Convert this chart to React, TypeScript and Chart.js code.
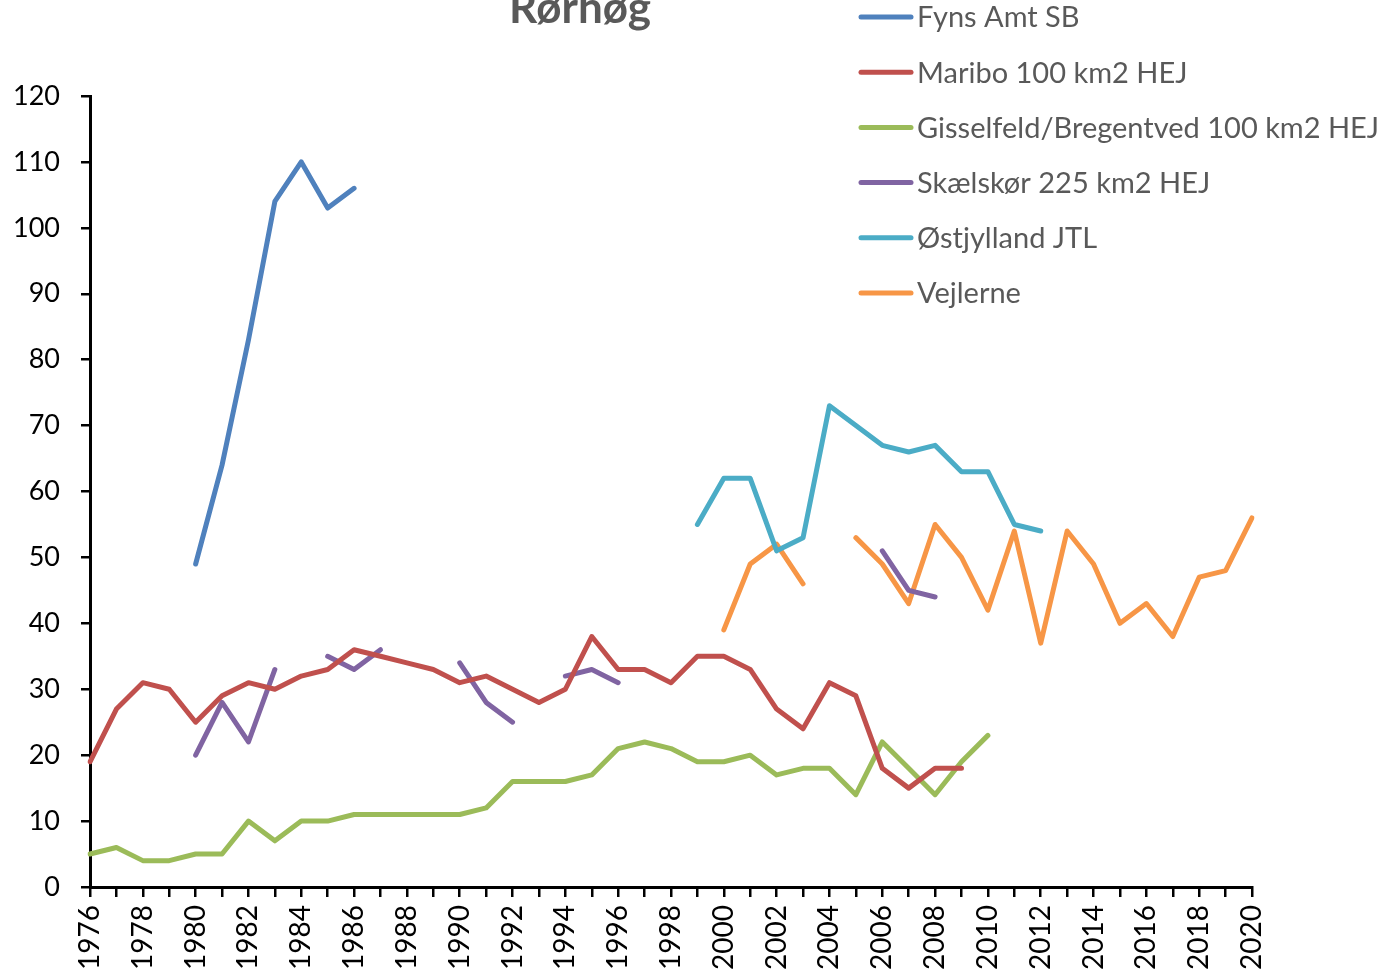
import React, { useEffect, useRef } from "react";
import { Chart, registerables } from "chart.js";

Chart.register(...registerables);

const years: string[] = [];
for (let y = 1976; y <= 2020; y++) years.push(String(y));

const N = null;

// 1976 .. 2020 (45 values)
const fynsAmt = [
  N, N, N, N, 49, 64, 83, 104, 110, 103, 106, N, N, N, N, N, N, N, N, N,
  N, N, N, N, N, N, N, N, N, N, N, N, N, N, N, N, N, N, N, N,
  N, N, N, N, N,
];
const maribo = [
  19, 27, 31, 30, 25, 29, 31, 30, 32, 33, 36, 35, 34, 33, 31, 32, 30, 28, 30, 38,
  33, 33, 31, 35, 35, 33, 27, 24, 31, 29, 18, 15, 18, 18, N, N, N, N, N, N,
  N, N, N, N, N,
];
const gisselfeld = [
  5, 6, 4, 4, 5, 5, 10, 7, 10, 10, 11, 11, 11, 11, 11, 12, 16, 16, 16, 17,
  21, 22, 21, 19, 19, 20, 17, 18, 18, 14, 22, 18, 14, 19, 23, N, N, N, N, N,
  N, N, N, N, N,
];
const skaelskoer = [
  N, N, N, N, 20, 28, 22, 33, N, 35, 33, 36, N, N, 34, 28, 25, N, 32, 33,
  31, N, N, N, N, N, N, N, N, N, 51, 45, 44, N, N, N, N, N, N, N,
  N, N, N, N, N,
];
const oestjylland = [
  N, N, N, N, N, N, N, N, N, N, N, N, N, N, N, N, N, N, N, N,
  N, N, N, 55, 62, 62, 51, 53, 73, 70, 67, 66, 67, 63, 63, 55, 54, N, N, N,
  N, N, N, N, N,
];
const vejlerne = [
  N, N, N, N, N, N, N, N, N, N, N, N, N, N, N, N, N, N, N, N,
  N, N, N, N, 39, 49, 52, 46, N, 53, 49, 43, 55, 50, 42, 54, 37, 54, 49, 40,
  43, 38, 47, 48, 56,
];

const seriesLabels = [
  "Fyns Amt SB",
  "Maribo 100 km2 HEJ",
  "Gisselfeld/Bregentved 100 km2 HEJ",
  "Skælskør 225 km2 HEJ",
  "Østjylland JTL",
  "Vejlerne",
];
const seriesColors = ["#4F81BD", "#C0504D", "#9BBB59", "#8064A2", "#4BACC6", "#F79646"];
const seriesData = [fynsAmt, maribo, gisselfeld, skaelskoer, oestjylland, vejlerne];

const TITLE = "Rørhøg";
const FONT = "Lato, 'Open Sans', sans-serif";

const overlayPlugin = {
  id: "overlayTitleLegend",
  afterDraw(chart: any) {
    const ctx = chart.ctx as CanvasRenderingContext2D;
    ctx.save();
    // title
    ctx.fillStyle = "#595959";
    ctx.font = `bold 44px ${FONT}`;
    ctx.textAlign = "center";
    ctx.textBaseline = "alphabetic";
    ctx.fillText(TITLE, 580, 23);
    // legend
    ctx.textAlign = "left";
    ctx.textBaseline = "middle";
    ctx.font = `29px ${FONT}`;
    chart.data.datasets.forEach((ds: any, i: number) => {
      const y = 17 + i * 55.2;
      ctx.strokeStyle = ds.borderColor;
      ctx.lineWidth = 5;
      ctx.lineCap = "round";
      ctx.beginPath();
      ctx.moveTo(861, y);
      ctx.lineTo(911, y);
      ctx.stroke();
      ctx.fillStyle = "#595959";
      ctx.fillText(ds.label, 917, y + 1);
    });
    ctx.restore();
  },
};

export default function App() {
  const ref = useRef<HTMLCanvasElement | null>(null);

  useEffect(() => {
    document.body.style.margin = "0";
    const canvas = ref.current!;
    const chart = new Chart(canvas, {
      type: "line",
      data: {
        labels: years,
        datasets: seriesLabels.map((label, i) => ({
          label,
          data: seriesData[i],
          borderColor: seriesColors[i],
          backgroundColor: seriesColors[i],
          borderWidth: 5,
          borderCapStyle: "round" as const,
          borderJoinStyle: "round" as const,
          pointRadius: 0,
          pointHoverRadius: 0,
          tension: 0,
          spanGaps: false,
          fill: false,
        })),
      },
      options: {
        animation: false,
        responsive: false,
        maintainAspectRatio: false,
        layout: { padding: { top: 96, right: 135, left: 0, bottom: 0 } },
        plugins: {
          legend: { display: false },
          title: { display: false },
          tooltip: { enabled: false },
        },
        scales: {
          x: {
            type: "category",
            offset: false,
            afterFit: (s: any) => {
              s.height = 90;
            },
            grid: {
              display: true,
              drawOnChartArea: false,
              drawTicks: true,
              tickLength: 10,
              color: "#000",
              lineWidth: 2.5,
            },
            border: { display: true, color: "#000", width: 3 },
            ticks: {
              autoSkip: false,
              maxRotation: 90,
              minRotation: 90,
              padding: 8,
              color: "#000",
              font: { family: FONT, size: 28 },
              callback: function (this: any, value: any, index: number) {
                const lbl = years[index];
                return Number(lbl) % 2 === 0 ? lbl : "";
              },
            },
          },
          y: {
            min: 0,
            max: 120,
            afterFit: (s: any) => {
              s.width = 90;
            },
            grid: {
              display: true,
              drawOnChartArea: false,
              drawTicks: true,
              tickLength: 9,
              color: "#000",
              lineWidth: 2.5,
            },
            border: { display: true, color: "#000", width: 3 },
            ticks: {
              stepSize: 10,
              padding: 21,
              color: "#000",
              font: { family: FONT, size: 27 },
            },
          },
        },
      },
      plugins: [overlayPlugin],
    });
    return () => chart.destroy();
  }, []);

  return (
    <div style={{ position: "relative", width: 1387, height: 977 }}>
      <canvas ref={ref} width={1387} height={977} style={{ display: "block", width: 1387, height: 977 }} />
    </div>
  );
}
